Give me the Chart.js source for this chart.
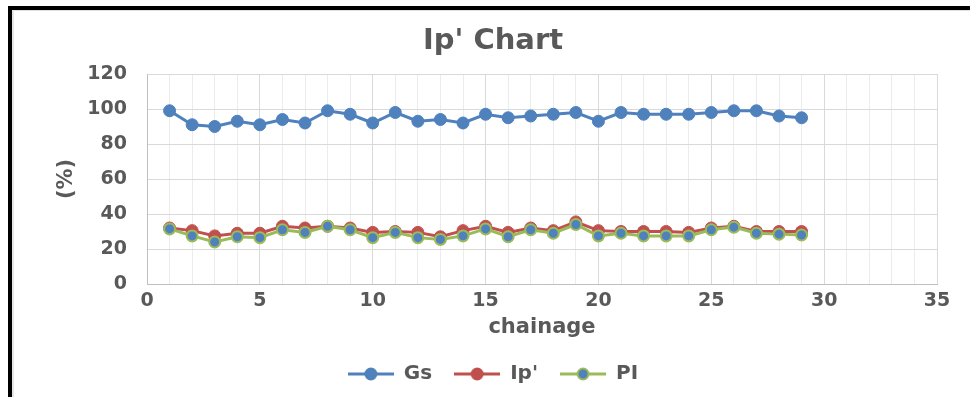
<!DOCTYPE html>
<html>
<head>
<meta charset="utf-8">
<script src="https://cdn.jsdelivr.net/npm/chart.js@4.4.0/dist/chart.umd.min.js"></script>
<style>
  html, body { margin: 0; padding: 0; background: #fff; }
  #wrap { position: relative; width: 970px; height: 397px; overflow: hidden; background: #fff; }
  #frame { position: absolute; left: 8px; top: 6px; width: 1000px; height: 500px;
           border-top: 4px solid #000; border-left: 4px solid #000; }
  #inner { position: absolute; left: 12px; top: 10px; width: 1000px; height: 500px;
           border-top: 1px solid #e2e2e2; border-left: 2px solid #e6e6e6; }
  canvas { position: absolute; left: 0; top: 0; }
</style>
</head>
<body>
<div id="wrap">
  <div id="frame"></div>
  <div id="inner"></div>
  <canvas id="c" width="970" height="397"></canvas>
</div>
<script>
// Chainage stations and measured percentages
const chainage = [1, 2, 3, 4, 5, 6, 7, 8, 9, 10, 11, 12, 13, 14, 15, 16, 17, 18, 19, 20, 21, 22, 23, 24, 25, 26, 27, 28, 29];
const gsValues = [99, 91, 90, 93, 91, 94, 92, 99, 97, 92, 98, 93, 94, 92, 97, 95, 96, 97, 98, 93, 98, 97, 97, 97, 98, 99, 99, 96, 95];
const ipValues = [32, 30.5, 27.5, 29, 29, 33, 32, 33, 32, 29.5, 30, 29.5, 27, 30.5, 33, 29.5, 32, 30.5, 35.5, 30.5, 30, 30, 30, 29.5, 32, 33, 30, 30, 30];
const piValues = [31.5, 27.5, 24, 27, 26.5, 31, 29.5, 33, 31, 26.5, 29.5, 26.5, 25.5, 27.5, 31.5, 27, 31, 29, 34, 27.5, 29, 27.5, 27.5, 27.5, 31, 32.5, 29, 28.5, 28];
const seriesNames = ['Gs', "Ip'", 'PI'];
const xTickStep = 5;

const BLUE = '#4F81BD', RED = '#C0504D', GREEN = '#9BBB59', TEXT = '#595959';
const FONT = "'DejaVu Sans', 'Liberation Sans', sans-serif";

const toPoints = vals => vals.map((v, i) => ({ x: chainage[i], y: v }));

// Legend symbol: short line with a marker in the middle
function legendSymbol(lineColor, fill, stroke) {
  const c = document.createElement('canvas');
  c.width = 46; c.height = 14;
  const g = c.getContext('2d');
  g.strokeStyle = lineColor; g.lineWidth = 3;
  g.beginPath(); g.moveTo(0, 7); g.lineTo(46, 7); g.stroke();
  g.beginPath(); g.arc(23, 7, 5.5, 0, Math.PI * 2);
  g.fillStyle = fill; g.fill();
  g.lineWidth = 2; g.strokeStyle = stroke; g.stroke();
  return c;
}
const symbols = [
  legendSymbol(BLUE, BLUE, BLUE),
  legendSymbol(RED, RED, RED),
  legendSymbol(GREEN, BLUE, GREEN)
];

const chart = new Chart(document.getElementById('c'), {
  type: 'line',
  data: {
    datasets: [
      { label: seriesNames[0], data: toPoints(gsValues), order: 2,
        borderColor: BLUE, backgroundColor: BLUE, borderWidth: 3,
        pointRadius: 6, pointBackgroundColor: BLUE, pointBorderColor: BLUE, pointBorderWidth: 1 },
      { label: seriesNames[1], data: toPoints(ipValues), order: 1,
        borderColor: RED, backgroundColor: RED, borderWidth: 3,
        pointRadius: 6, pointBackgroundColor: RED, pointBorderColor: RED, pointBorderWidth: 1 },
      { label: seriesNames[2], data: toPoints(piValues), order: 0,
        borderColor: GREEN, backgroundColor: BLUE, borderWidth: 3,
        pointRadius: 5.5, pointBackgroundColor: BLUE, pointBorderColor: GREEN, pointBorderWidth: 2 }
    ]
  },
  options: {
    responsive: false,
    animation: false,
    devicePixelRatio: 1,
    layout: { padding: { left: 49, right: 33, top: 0, bottom: 3 } },
    plugins: {
      tooltip: { enabled: false },
      title: {
        display: true, text: "Ip' Chart", color: TEXT,
        font: { family: FONT, size: 29, weight: 'bold' },
        padding: { top: 24, bottom: 15.2 }
      },
      legend: {
        position: 'bottom',
        labels: {
          color: TEXT, font: { family: FONT, size: 20, weight: 'bold' },
          usePointStyle: true, pointStyleWidth: 46, padding: 22,
          sort: (a, b) => a.datasetIndex - b.datasetIndex,
          generateLabels: (ch) => ch.data.datasets.map((ds, i) => ({
            text: ds.label, datasetIndex: i, pointStyle: symbols[i],
            fontColor: TEXT, hidden: false, lineWidth: 0,
            strokeStyle: 'transparent', fillStyle: 'transparent'
          }))
        }
      }
    },
    scales: {
      x: {
        type: 'linear', min: 0, max: 35,
        afterFit: s => { s.height = 58; },
        ticks: {
          stepSize: 1, autoSkip: false, maxRotation: 0, padding: 6,
          color: TEXT, font: { family: FONT, size: 19, weight: 'bold' },
          callback: v => (v % xTickStep === 0 ? String(v) : '')
        },
        grid: {
          drawTicks: false,
          color: c => (c.tick && c.tick.value % xTickStep === 0 ? '#d9d9d9' : '#ececec'),
          lineWidth: 1
        },
        border: { color: '#bfbfbf', width: 1 },
        title: {
          display: true, text: 'chainage', color: TEXT,
          font: { family: FONT, size: 21, weight: 'bold' },
          padding: { top: 0, bottom: 1.5 }
        }
      },
      y: {
        min: 0, max: 120,
        afterFit: s => { s.width = 98; },
        ticks: {
          stepSize: 20, padding: 20, color: TEXT,
          font: { family: FONT, size: 19, weight: 'bold' }
        },
        grid: { drawTicks: false, color: '#d9d9d9', lineWidth: 1 },
        border: { color: '#bfbfbf', width: 1 },
        title: {
          display: true, text: '(%)', color: TEXT,
          font: { family: FONT, size: 21, weight: 'bold' },
          padding: { top: 5, bottom: 0 }
        }
      }
    }
  }
});
</script>
</body>
</html>
